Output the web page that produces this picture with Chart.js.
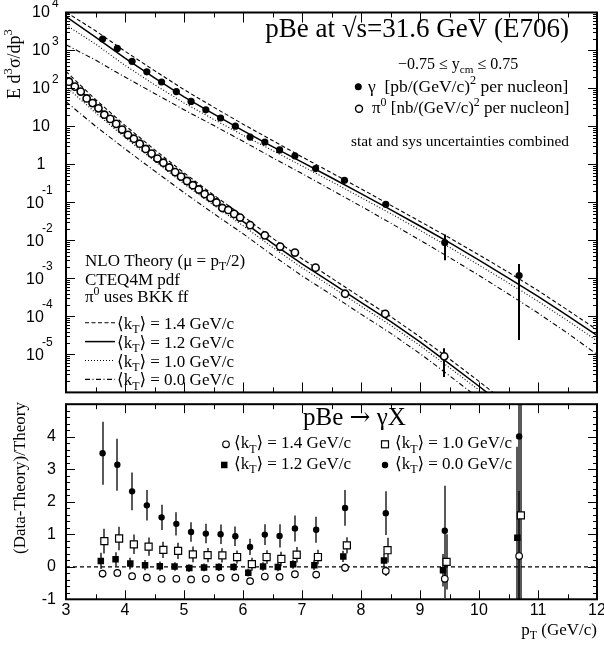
<!DOCTYPE html>
<html>
<head>
<meta charset="utf-8">
<script src="https://cdn.jsdelivr.net/npm/chart.js"></script>
<style>
  html, body { margin: 0; padding: 0; background: #fff; }
  #wrap { position: relative; width: 604px; height: 646px; }
  #topBox { position: absolute; left: 0; top: 0; width: 604px; height: 398px; }
  #botBox { position: absolute; left: 0; top: 398px; width: 604px; height: 248px; }
</style>
</head>
<body>
<div id="wrap">
  <div id="topBox"><canvas id="topChart" width="604" height="398"></canvas></div>
  <div id="botBox"><canvas id="botChart" width="604" height="248"></canvas></div>
</div>
<script>
// ---- data ----
const ptPhoton = [3.62, 3.87, 4.12, 4.37, 4.62, 4.87, 5.12, 5.37, 5.62, 5.87, 6.12, 6.37, 6.62, 6.88, 7.23, 7.72, 8.42, 9.42, 10.68];
const photonXsec = [1995, 1135, 520, 275, 148, 83, 45.6, 27.4, 16.7, 10.2, 5.26, 3.9, 2.41, 1.69, 0.78, 0.383, 0.0898, 0.00877, 0.00119];
const photonLow = [null, null, null, null, null, null, null, null, null, null, null, null, null, null, null, null, null, 0.00303, 2.4e-5];
const photonHigh = [null, null, null, null, null, null, null, null, null, null, null, null, null, null, null, null, null, 0.0144, 0.00239];

const ptPi0 = [3.05, 3.15, 3.25, 3.35, 3.45, 3.55, 3.65, 3.75, 3.85, 3.95, 4.05, 4.15, 4.25, 4.35, 4.45, 4.55, 4.65, 4.75, 4.85, 4.95,
  5.05, 5.15, 5.25, 5.35, 5.45, 5.55, 5.65, 5.75, 5.85, 5.95, 6.12, 6.37, 6.63, 6.88, 7.23, 7.73, 8.41, 9.41];
const pi0Xsec = [151, 112, 83, 54.6, 41.2, 30, 20.4, 15.8, 11.7, 8.3, 6.04, 4.75, 3.52, 2.56, 1.93, 1.43, 1.11, 0.835, 0.63, 0.479,
  0.367, 0.284, 0.219, 0.166, 0.132, 0.1, 0.0714, 0.0634, 0.0499, 0.04, 0.0253, 0.0136, 0.0069, 0.0048, 0.00192, 3.95e-4, 1.17e-4, 8.9e-6];
const pi0Low = ptPi0.map((p, i) => i === ptPi0.length - 1 ? 2.56e-6 : null);
const pi0High = ptPi0.map((p, i) => i === ptPi0.length - 1 ? 1.46e-5 : null);

// NLO theory curves (photon), kT = 1.4 / 1.2 / 1.0 / 0.0 GeV/c
const ptTheoryPhoton = [3, 3.5, 4, 4.5, 5, 5.5, 6, 6.5, 7, 7.5, 8, 8.5, 9, 9.5, 10, 10.5, 11, 11.5, 12];
const photonKt14 = [1.02e4, 3310, 955, 295, 93.3, 32.4, 11.5, 4.27, 1.58, 0.603, 0.229, 0.0851, 0.0316, 0.0117, 4.17e-3, 1.45e-3, 4.79e-4, 1.48e-4, 4.47e-5];
const photonKt12 = [7760, 2240, 631, 190.5, 60.3, 21.4, 7.76, 2.95, 1.15, 0.447, 0.170, 0.0646, 0.0240, 8.71e-3, 3.02e-3, 1.02e-3, 3.39e-4, 1.05e-4, 3.16e-5];
const photonKt10 = [4680, 1480, 407, 126, 41.7, 15.5, 5.89, 2.34, 0.912, 0.355, 0.135, 0.0513, 0.0186, 6.61e-3, 2.24e-3, 7.59e-4, 2.51e-4, 7.76e-5, 2.29e-5];
const photonKt00 = [1410, 562, 200, 74.1, 27.5, 10.7, 4.07, 1.51, 0.575, 0.214, 0.0794, 0.0288, 0.0102, 3.55e-3, 1.20e-3, 3.89e-4, 1.23e-4, 3.63e-5, 1.0e-5];

// NLO theory curves (pi0)
const ptTheoryPi0 = [3, 3.5, 4, 4.5, 5, 5.5, 6, 6.5, 7, 7.5, 8, 8.5, 9, 9.5, 10, 10.5];
const pi0Kt14 = [282, 51.3, 10.7, 2.45, 0.603, 0.158, 0.0437, 0.0115, 3.31e-3, 1.02e-3, 3.16e-4, 1.0e-4, 2.88e-5, 7.59e-6, 1.95e-6, 4.79e-7];
const pi0Kt12 = [200, 36.3, 7.59, 1.74, 0.427, 0.112, 0.0316, 8.32e-3, 2.40e-3, 7.59e-4, 2.34e-4, 7.41e-5, 2.14e-5, 5.62e-6, 1.45e-6, 3.55e-7];
const pi0Kt10 = [112, 22.9, 5.13, 1.23, 0.309, 0.0851, 0.0245, 6.61e-3, 1.91e-3, 6.03e-4, 1.86e-4, 5.89e-5, 1.70e-5, 4.47e-6, 1.15e-6, 2.82e-7];
const pi0Kt00 = [44.7, 10.2, 2.57, 0.676, 0.182, 0.0513, 0.0151, 4.07e-3, 1.17e-3, 3.72e-4, 1.15e-4, 3.63e-5, 1.05e-5, 2.75e-6, 6.92e-7, 1.70e-7];

// (Data-Theory)/Theory for photons
const ptRatio = [3.62, 3.87, 4.12, 4.37, 4.62, 4.87, 5.12, 5.37, 5.62, 5.87, 6.12, 6.37, 6.62, 6.88, 7.24, 7.73, 8.42, 9.42, 10.68];
const ratioKt14 = [-0.21, -0.19, -0.29, -0.33, -0.37, -0.37, -0.39, -0.37, -0.34, -0.33, -0.44, -0.30, -0.31, -0.23, -0.24, -0.03, -0.13, -0.37, 0.33];
const errKt14 = [0.12, 0.12, 0.10, 0.10, 0.09, 0.09, 0.09, 0.09, 0.09, 0.09, 0.09, 0.10, 0.10, 0.10, 0.11, 0.12, 0.15, 0.60, 2.0];
const ratioKt12 = [0.18, 0.23, 0.10, 0.05, 0.02, 0.01, -0.04, -0.02, -0.01, -0.01, -0.18, 0.01, -0.01, 0.08, 0.05, 0.32, 0.19, -0.11, 0.89];
const errKt12 = [0.25, 0.22, 0.18, 0.16, 0.14, 0.13, 0.12, 0.12, 0.12, 0.12, 0.12, 0.13, 0.13, 0.14, 0.15, 0.17, 0.20, 0.50, 2.8];
const ratioKt10 = [0.79, 0.87, 0.69, 0.62, 0.52, 0.49, 0.38, 0.36, 0.35, 0.30, 0.08, 0.30, 0.24, 0.37, 0.30, 0.66, 0.51, 0.15, 1.58];
const errKt10 = [0.38, 0.36, 0.30, 0.28, 0.25, 0.25, 0.24, 0.22, 0.22, 0.20, 0.20, 0.21, 0.22, 0.24, 0.22, 0.25, 0.38, 0.85, 3.6];
const ratioKt00 = [3.49, 3.14, 2.32, 1.89, 1.52, 1.32, 1.07, 1.02, 1.00, 0.94, 0.61, 0.99, 0.95, 1.18, 1.14, 1.81, 1.65, 1.11, 4.01];
const errKt00 = [0.97, 0.80, 0.58, 0.47, 0.39, 0.36, 0.30, 0.30, 0.30, 0.30, 0.25, 0.32, 0.36, 0.40, 0.40, 0.55, 0.67, 1.38, 6.0];

// tick labels
const xTickLabels = ['3', '4', '5', '6', '7', '8', '9', '10', '11', '12'];
const yDecades = [4, 3, 2, 1, 0, -1, -2, -3, -4, -5];
const ratioTickLabels = ['-1', '0', '1', '2', '3', '4'];

const SERIF = '"Liberation Serif", "DejaVu Serif", serif';
const SANS = '"Liberation Sans", Arial, sans-serif';
const DASH = [4, 2.5], DOT = [1, 2], DASHDOT = [5, 2.5, 1, 2.5];

function pts(xs, ys, dx) {
  return xs.map((x, i) => ({ x: x + (dx || 0), y: ys[i] }));
}

// text with sub/superscripts; parts = [[text, kind, family?]]
function rich(ctx, x, y, parts, size, family, align) {
  const sm = size * 0.7;
  const fontOf = (k, f) => (k ? sm : size) + 'px ' + (f || family);
  let w = 0;
  parts.forEach(([t, k, f]) => { ctx.font = fontOf(k, f); w += ctx.measureText(t).width; });
  let cx = align === 'right' ? x - w : align === 'center' ? x - w / 2 : x;
  ctx.textAlign = 'left';
  parts.forEach(([t, k, f]) => {
    ctx.font = fontOf(k, f);
    const dy = k === 'sup' ? -size * 0.42 : k === 'sub' ? size * 0.26 : 0;
    ctx.fillText(t, cx, y + dy);
    cx += ctx.measureText(t).width;
  });
}

function kt(v) { return [['\u27E8k', ''], ['T', 'sub'], ['\u27E9 = ' + v + ' GeV/c', '']]; }

const errorBars = {
  id: 'errorBars',
  beforeDatasetsDraw(chart) {
    const { ctx, chartArea: a } = chart;
    const xs = chart.scales.x, ys = chart.scales.y;
    ctx.save();
    ctx.beginPath();
    ctx.rect(a.left, a.top, a.right - a.left, a.bottom - a.top);
    ctx.clip();
    ctx.strokeStyle = '#000';
    chart.data.datasets.forEach(ds => {
      if (!ds.errLow) return;
      ctx.lineWidth = ds.errWidth || 1.3;
      ctx.beginPath();
      ds.data.forEach((p, j) => {
        const lo = ds.errLow[j], hi = ds.errHigh[j];
        if (lo == null || hi == null) return;
        const px = Math.round(xs.getPixelForValue(p.x));
        ctx.moveTo(px, ys.getPixelForValue(lo));
        ctx.lineTo(px, ys.getPixelForValue(hi));
      });
      ctx.stroke();
    });
    ctx.restore();
  }
};

function drawXTicks(ctx, xs, a, big, small) {
  ctx.beginPath();
  for (let v = 3; v <= 12.001; v += 0.5) {
    const px = Math.round(xs.getPixelForValue(v)) + 0.5;
    const len = Math.abs(v - Math.round(v)) < 1e-6 ? big : small;
    ctx.moveTo(px, a.bottom); ctx.lineTo(px, a.bottom - len);
    ctx.moveTo(px, a.top); ctx.lineTo(px, a.top + len);
  }
  ctx.stroke();
}

const topDecor = {
  id: 'topDecor',
  afterDraw(chart) {
    const { ctx, chartArea: a } = chart;
    const xs = chart.scales.x, ys = chart.scales.y;
    ctx.save();
    ctx.strokeStyle = '#000';
    ctx.fillStyle = '#000';
    ctx.lineWidth = 1;
    drawXTicks(ctx, xs, a, 10, 5);
    // log ticks on both sides
    ctx.beginPath();
    for (let d = -6; d < 4; d++) {
      for (let k = 1; k <= 9; k++) {
        const py = Math.round(ys.getPixelForValue(k * Math.pow(10, d))) + 0.5;
        const len = k === 1 ? 9 : 4;
        ctx.moveTo(a.left, py); ctx.lineTo(a.left + len, py);
        ctx.moveTo(a.right, py); ctx.lineTo(a.right - len, py);
      }
    }
    ctx.stroke();
    ctx.lineWidth = 2;
    ctx.strokeRect(a.left, a.top, a.right - a.left, a.bottom - a.top);

    // decade labels
    ctx.textBaseline = 'middle';
    yDecades.forEach(d => {
      const py = ys.getPixelForValue(Math.pow(10, d));
      ctx.font = '16px ' + SANS;
      ctx.textAlign = 'center';
      if (d === 0) { ctx.fillText('1', 41, py); return; }
      if (d === 1) { ctx.fillText('10', 41, py); return; }
      if (d > 1) {
        ctx.fillText('10', 41, py);
        ctx.font = '12px ' + SANS; ctx.textAlign = 'left';
        ctx.fillText(String(d), 52, py - 9);
      } else {
        ctx.fillText('10', 35, py + 1.5);
        ctx.font = '12px ' + SANS; ctx.textAlign = 'left';
        ctx.fillText(String(d), 42, py - 12);
      }
    });
    ctx.textBaseline = 'alphabetic';

    // y title
    ctx.save();
    ctx.translate(20, 64);
    ctx.rotate(-Math.PI / 2);
    rich(ctx, 0, 0, [['E d', ''], ['3', 'sup'], ['\u03C3/dp', ''], ['3', 'sup']], 18, SERIF, 'center');
    ctx.restore();

    // header
    rich(ctx, 569, 36.7, [['pBe at \u221As=31.6 GeV (E706)', '']], 27, SERIF, 'right');
    rich(ctx, 398, 68.5, [['\u22120.75 \u2264 y', ''], ['cm', 'sub'], [' \u2264 0.75', '']], 16, SERIF, 'left');
    ctx.beginPath(); ctx.arc(358.3, 86.7, 3.5, 0, Math.PI * 2); ctx.fill();
    rich(ctx, 368, 91.7, [['\u03B3  [pb/(GeV/c)', ''], ['2', 'sup'], [' per nucleon]', '']], 17.5, SERIF, 'left');
    ctx.lineWidth = 1.4;
    ctx.beginPath(); ctx.arc(359, 108.7, 3.5, 0, Math.PI * 2); ctx.stroke();
    rich(ctx, 372, 113.3, [['\u03C0', ''], ['0', 'sup'], [' [nb/(GeV/c)', ''], ['2', 'sup'], [' per nucleon]', '']], 17, SERIF, 'left');
    rich(ctx, 569, 145.7, [['stat and sys uncertainties combined', '']], 15.4, SERIF, 'right');

    // theory legend
    rich(ctx, 85, 265.7, [['NLO Theory (\u03BC = p', ''], ['T', 'sub'], ['/2)', '']], 17, SERIF, 'left');
    rich(ctx, 85, 285, [['CTEQ4M pdf', '']], 17, SERIF, 'left');
    rich(ctx, 85, 302.3, [['\u03C0', ''], ['0', 'sup'], [' uses BKK ff', '']], 17, SERIF, 'left');
    const rows = [[DASH, '1.4', 1.1], [[], '1.2', 1.5], [DOT, '1.0', 1.1], [DASHDOT, '0.0', 1.1]];
    rows.forEach(([dash, v, lw], i) => {
      const y = 322.7 + i * 18.9;
      ctx.setLineDash(dash); ctx.lineWidth = lw;
      ctx.beginPath(); ctx.moveTo(85, y); ctx.lineTo(115, y); ctx.stroke();
      ctx.setLineDash([]);
      rich(ctx, 117, y + 6, kt(v), 17, SERIF, 'left');
    });
    ctx.restore();
  }
};

const botDecor = {
  id: 'botDecor',
  afterDraw(chart) {
    const { ctx, chartArea: a } = chart;
    const xs = chart.scales.x, ys = chart.scales.y;
    ctx.save();
    ctx.strokeStyle = '#000';
    ctx.fillStyle = '#000';
    ctx.lineWidth = 1;
    drawXTicks(ctx, xs, a, 9, 5);
    ctx.beginPath();
    for (let i = 0; i <= 30; i++) {
      const v = -1 + i * 0.2;
      const py = Math.round(ys.getPixelForValue(v)) + 0.5;
      const len = i % 5 === 0 ? 9 : 4;
      ctx.moveTo(a.left, py); ctx.lineTo(a.left + len, py);
      ctx.moveTo(a.right, py); ctx.lineTo(a.right - len, py);
    }
    ctx.stroke();
    ctx.lineWidth = 2;
    ctx.strokeRect(a.left, a.top, a.right - a.left, a.bottom - a.top);

    // tick labels
    ctx.font = '16px ' + SANS;
    ctx.textAlign = 'center'; ctx.textBaseline = 'top';
    xTickLabels.forEach(l => ctx.fillText(l, xs.getPixelForValue(+l), a.bottom + 3));
    ctx.textAlign = 'right'; ctx.textBaseline = 'middle';
    ratioTickLabels.forEach(l => ctx.fillText(l, 56, ys.getPixelForValue(+l)));
    ctx.textBaseline = 'alphabetic';

    rich(ctx, 597, 237, [['p', ''], ['T', 'sub'], [' (GeV/c)', '']], 17, SERIF, 'right');
    ctx.save();
    ctx.translate(25, 80);
    ctx.rotate(-Math.PI / 2);
    rich(ctx, 0, 0, [['(Data-Theory)/Theory', '']], 17, SERIF, 'center');
    ctx.restore();

    rich(ctx, 303, 27, [['pBe ', ''], ['\u2192', '', '"DejaVu Serif", serif'], [' \u03B3X', '']], 25, SERIF, 'left');
    // legend markers
    ctx.lineWidth = 1.2;
    ctx.beginPath(); ctx.arc(226, 46.3, 3.3, 0, Math.PI * 2); ctx.stroke();
    ctx.strokeRect(381.5, 42.8, 7, 7);
    ctx.fillRect(221, 63.7, 6.5, 6.5);
    ctx.beginPath(); ctx.arc(385, 67, 3.2, 0, Math.PI * 2); ctx.fill();
    rich(ctx, 234, 50.3, kt('1.4'), 17, SERIF, 'left');
    rich(ctx, 395, 50.3, kt('1.0'), 17, SERIF, 'left');
    rich(ctx, 234, 71, kt('1.2'), 17, SERIF, 'left');
    rich(ctx, 395, 71, kt('0.0'), 17, SERIF, 'left');
    ctx.restore();
  }
};

function curve(label, xs, ys, dash, width) {
  return { label, data: pts(xs, ys), showLine: true, pointRadius: 0, borderColor: '#000', borderWidth: width || 1.1, borderDash: dash, fill: false };
}

const commonOpts = {
  responsive: false,
  animation: false,
  events: [],
  plugins: { legend: { display: false }, tooltip: { enabled: false } }
};

new Chart(document.getElementById('topChart'), {
  type: 'scatter',
  data: {
    datasets: [
      { label: 'gamma', data: pts(ptPhoton, photonXsec), errLow: photonLow, errHigh: photonHigh, errWidth: 2,
        pointRadius: 3.6, pointBackgroundColor: '#000', pointBorderColor: '#000', pointBorderWidth: 0 },
      { label: 'pi0', data: pts(ptPi0, pi0Xsec), errLow: pi0Low, errHigh: pi0High, errWidth: 2,
        pointRadius: 3.6, pointBackgroundColor: '#fff', pointBorderColor: '#000', pointBorderWidth: 1.6 },
      curve('gamma kT=1.4', ptTheoryPhoton, photonKt14, DASH),
      curve('gamma kT=1.2', ptTheoryPhoton, photonKt12, [], 1.5),
      curve('gamma kT=1.0', ptTheoryPhoton, photonKt10, DOT),
      curve('gamma kT=0.0', ptTheoryPhoton, photonKt00, DASHDOT),
      curve('pi0 kT=1.4', ptTheoryPi0, pi0Kt14, DASH),
      curve('pi0 kT=1.2', ptTheoryPi0, pi0Kt12, [], 1.5),
      curve('pi0 kT=1.0', ptTheoryPi0, pi0Kt10, DOT),
      curve('pi0 kT=0.0', ptTheoryPi0, pi0Kt00, DASHDOT)
    ]
  },
  options: Object.assign({}, commonOpts, {
    layout: { padding: { left: 66, right: 7, top: 12.5, bottom: 2 } },
    scales: {
      x: { type: 'linear', min: 3, max: 12, display: false },
      y: { type: 'logarithmic', min: 1e-6, max: 1e4, display: false }
    }
  }),
  plugins: [errorBars, topDecor]
});

function ratioSet(label, vals, errs, dx, style) {
  return Object.assign({
    label, data: pts(ptRatio, vals, dx),
    errLow: vals.map((v, i) => v - errs[i]), errHigh: vals.map((v, i) => v + errs[i]), errWidth: 1.3
  }, style);
}

new Chart(document.getElementById('botChart'), {
  type: 'scatter',
  data: {
    datasets: [
      ratioSet('kT=1.4', ratioKt14, errKt14, 0, { pointStyle: 'circle', pointRadius: 3.3, pointBackgroundColor: '#fff', pointBorderColor: '#000', pointBorderWidth: 1.2 }),
      ratioSet('kT=1.2', ratioKt12, errKt12, -0.03, { pointStyle: 'rect', pointRadius: 4.6, pointBackgroundColor: '#000', pointBorderColor: '#000', pointBorderWidth: 0 }),
      ratioSet('kT=1.0', ratioKt10, errKt10, 0.03, { pointStyle: 'rect', pointRadius: 5, pointBackgroundColor: '#fff', pointBorderColor: '#000', pointBorderWidth: 1.2 }),
      ratioSet('kT=0.0', ratioKt00, errKt00, 0, { pointStyle: 'circle', pointRadius: 3.2, pointBackgroundColor: '#000', pointBorderColor: '#000', pointBorderWidth: 0 }),
      { label: 'zero', data: [{ x: 3, y: 0 }, { x: 12, y: 0 }], showLine: true, pointRadius: 0, borderColor: '#000', borderWidth: 1.2, borderDash: [4, 3] }
    ]
  },
  options: Object.assign({}, commonOpts, {
    layout: { padding: { left: 66, right: 7, top: 1.5, bottom: 46.7 } },
    scales: {
      x: { type: 'linear', min: 3, max: 12, display: false },
      y: { type: 'linear', min: -1, max: 5, display: false }
    }
  }),
  plugins: [errorBars, botDecor]
});
</script>
</body>
</html>
